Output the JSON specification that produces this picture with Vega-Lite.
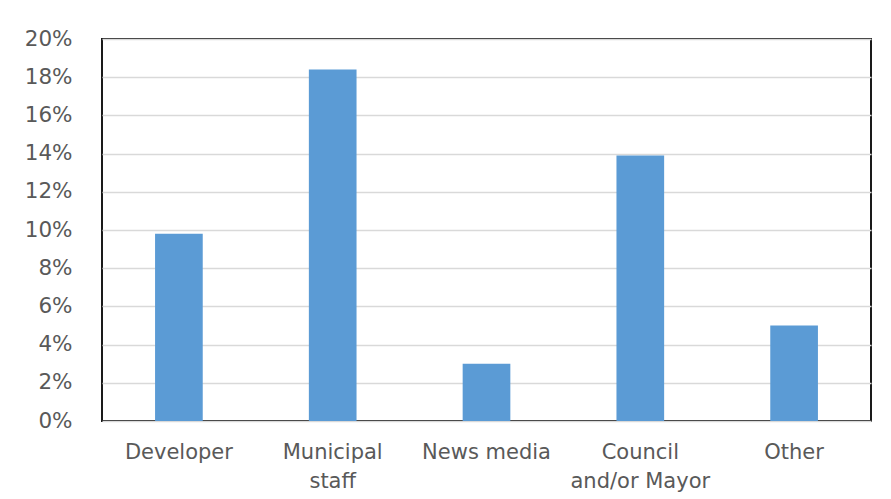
{
  "$schema": "https://vega.github.io/schema/vega-lite/v6.json",
  "width": 769,
  "height": 382,
  "autosize": {"type": "none"},
  "padding": {"left": 102, "top": 39, "right": 20, "bottom": 78},
  "background": "white",
  "data": {
    "values": [
      {"category": "Developer", "share": 0.098},
      {"category": "Municipal staff", "share": 0.184},
      {"category": "News media", "share": 0.030},
      {"category": "Council and/or Mayor", "share": 0.139},
      {"category": "Other", "share": 0.050}
    ]
  },
  "mark": {"type": "bar", "color": "#5b9bd5"},
  "encoding": {
    "x": {
      "field": "category",
      "type": "nominal",
      "sort": null,
      "title": null,
      "scale": {"paddingInner": 0.69, "paddingOuter": 0.345},
      "axis": {
        "domain": false,
        "ticks": false,
        "labelAngle": 0,
        "labelPadding": 20,
        "labelFont": "DejaVu Sans",
        "labelFontSize": 21,
        "labelColor": "#595959",
        "labelLineHeight": 29,
        "labelBaseline": "top",
        "labelExpr": "datum.value == 'Municipal staff' ? ['Municipal', 'staff'] : datum.value == 'Council and/or Mayor' ? ['Council', 'and/or Mayor'] : datum.value"
      }
    },
    "y": {
      "field": "share",
      "type": "quantitative",
      "title": null,
      "scale": {"domain": [0, 0.2], "nice": false},
      "axis": {
        "values": [0, 0.02, 0.04, 0.06, 0.08, 0.1, 0.12, 0.14, 0.16, 0.18, 0.2],
        "format": ".0%",
        "domain": false,
        "ticks": false,
        "labelPadding": 30,
        "labelFont": "DejaVu Sans",
        "labelFontSize": 21.5,
        "labelColor": "#595959",
        "gridColor": "#d9d9d9",
        "gridWidth": 1.5
      }
    }
  },
  "config": {
    "view": {"stroke": "#1a1a1a", "strokeWidth": 2}
  }
}
